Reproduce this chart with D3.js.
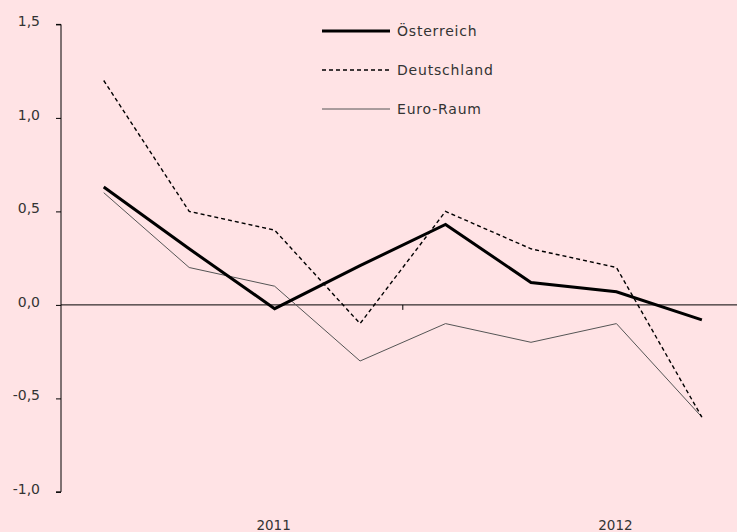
<!DOCTYPE html>
<html>
<head>
<meta charset="utf-8">
<script src="https://cdn.jsdelivr.net/npm/d3@7"></script>
<style>
  html, body { margin: 0; padding: 0; background: #FFE3E5; }
  svg { display: block; }
  text { font-family: "DejaVu Sans", sans-serif; fill: #333; }
</style>
</head>
<body>
<svg id="chart" width="737" height="532"></svg>
<script>
const categories = ["Q1 2011","Q2 2011","Q3 2011","Q4 2011","Q1 2012","Q2 2012","Q3 2012","Q4 2012"];
const categoryLabels = ["", "", "2011", "", "", "", "2012", ""];
const oesterreich = [0.63, 0.30, -0.02, 0.21, 0.43, 0.12, 0.07, -0.08];
const deutschland = [1.2, 0.5, 0.4, -0.1, 0.5, 0.3, 0.2, -0.6];
const euroRaum    = [0.6, 0.2, 0.1, -0.3, -0.1, -0.2, -0.1, -0.6];
const yTicks = [-1.0, -0.5, 0.0, 0.5, 1.0, 1.5];
const seriesNames = ["Österreich", "Deutschland", "Euro-Raum"];

(function () {
const svg = d3.select("#chart");
const W = 737;
const mLeft = 61, mTop = 24.4, mBottom = 491.9;
const band = 85.45;

const x = d3.scaleBand().domain(categories).range([mLeft, mLeft + band * categories.length]).padding(0);
const y = d3.scaleLinear().domain([-1, 1.5]).range([mBottom, mTop]);

// y axis
const yAxis = d3.axisLeft(y).tickValues(yTicks).tickSize(5).tickPadding(9)
  .tickFormat(d => d3.format(".1f")(d).replace(".", ",").replace("−", "-"));
const gy = svg.append("g").attr("transform", `translate(${mLeft},0)`).call(yAxis);
gy.select(".domain").attr("stroke", "#000").attr("d", `M-5,${y(1.5)}H0V${y(-1)}H-5`);
gy.selectAll(".tick line").attr("stroke", "#000");
gy.selectAll(".tick text").style("font-size", "14px").style("fill", "#333")
  .style("font-family", "'DejaVu Sans', sans-serif").attr("dy", "0.1em").attr("x", -21)
  .attr("text-anchor", "end");

// zero line with category axis
const xAxis = d3.axisBottom(x).tickSize(0).tickFormat(() => "");
const gx = svg.append("g").attr("transform", `translate(0,${y(0)})`).call(xAxis);
gx.select(".domain").attr("stroke", "#000").attr("d", `M${mLeft},0H${W}`);
gx.selectAll(".tick").remove();
// year boundary tick
svg.append("line")
  .attr("x1", x(categories[4])).attr("x2", x(categories[4]))
  .attr("y1", y(0)).attr("y2", y(0) + 5)
  .attr("stroke", "#000").attr("stroke-width", 1);

// year labels
svg.append("g").selectAll("text")
  .data(categories.map((c, i) => ({c, label: categoryLabels[i]})).filter(d => d.label))
  .join("text")
  .attr("x", d => x(d.c) + x.bandwidth() / 2 - 1)
  .attr("y", 530)
  .attr("text-anchor", "middle")
  .style("font-size", "13.5px")
  .text(d => d.label);

const line = d3.line()
  .x((d, i) => x(categories[i]) + x.bandwidth() / 2)
  .y(d => y(d));

const styles = [
  {data: oesterreich, stroke: "#000", width: 3, dash: null},
  {data: deutschland, stroke: "#000", width: 1.4, dash: "4,3"},
  {data: euroRaum, stroke: "#555", width: 1, dash: null}
];

[2, 1, 0].forEach(k => {
  const s = styles[k];
  svg.append("path")
    .datum(s.data)
    .attr("fill", "none")
    .attr("stroke", s.stroke)
    .attr("stroke-width", s.width)
    .attr("stroke-dasharray", s.dash)
    .attr("stroke-linejoin", "miter")
    .attr("d", line);
});

// legend
const legend = svg.append("g");
seriesNames.forEach((name, i) => {
  const s = styles[i];
  const ly = 31 + i * 39;
  legend.append("line")
    .attr("x1", 322).attr("x2", 390).attr("y1", ly).attr("y2", ly)
    .attr("stroke", s.stroke).attr("stroke-width", s.width)
    .attr("stroke-dasharray", s.dash);
  legend.append("text")
    .attr("x", 397).attr("y", ly + 5)
    .style("font-size", "14px")
    .style("letter-spacing", "0.8px")
    .text(name);
});
})();
</script>
</body>
</html>
